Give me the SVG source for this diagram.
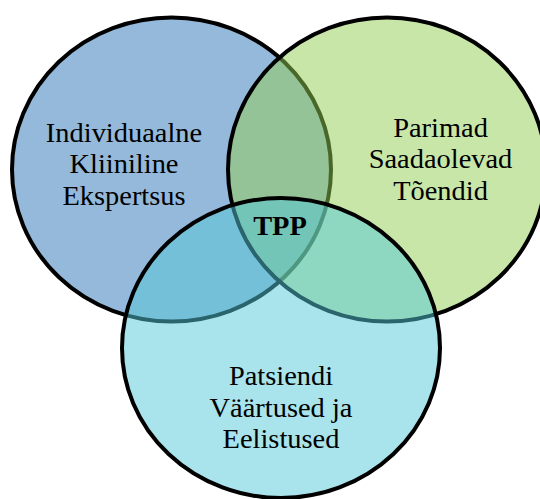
<svg xmlns="http://www.w3.org/2000/svg" width="540" height="499" viewBox="0 0 540 499">
<style>
.c{stroke:#000;stroke-width:4}
.t{font-family:"Liberation Serif","Times New Roman",serif;font-size:27px;fill:#000;text-anchor:middle}
.b{font-weight:bold}
</style>
<rect width="540" height="499" fill="#fff"/>
<g id="node-expertise">
<ellipse class="c" cx="171.5" cy="169.5" rx="159.5" ry="152" fill="#95B9DB"/>
<g transform="translate(124 0) scale(1.053 1)">
<text class="t" x="0" y="141.7">Individuaalne</text>
<text class="t" x="0" y="173.3">Kliiniline</text>
<text class="t" x="0" y="205">Ekspertsus</text>
</g>
</g>
<g id="node-evidence">
<ellipse class="c" cx="387" cy="169.5" rx="159" ry="152" fill="#91CD51" fill-opacity="0.5"/>
<g transform="translate(440.5 0) scale(1.053 1)">
<text class="t" x="0" y="136.7">Parimad</text>
<text class="t" x="0" y="168.3">Saadaolevad</text>
<text class="t" x="0" y="200">Tõendid</text>
</g>
</g>
<g id="node-patient">
<ellipse class="c" cx="281" cy="348" rx="159" ry="150" fill="#53C7D7" fill-opacity="0.5"/>
<g transform="translate(281 0) scale(1.053 1)">
<text class="t" x="0" y="385">Patsiendi</text>
<text class="t" x="0" y="416.7">Väärtused ja</text>
<text class="t" x="0" y="448.3">Eelistused</text>
</g>
</g>
<g id="node-tpp">
<g transform="translate(280 0) scale(1.053 1)">
<text class="t b" x="0" y="235">TPP</text>
</g>
</g>
</svg>
